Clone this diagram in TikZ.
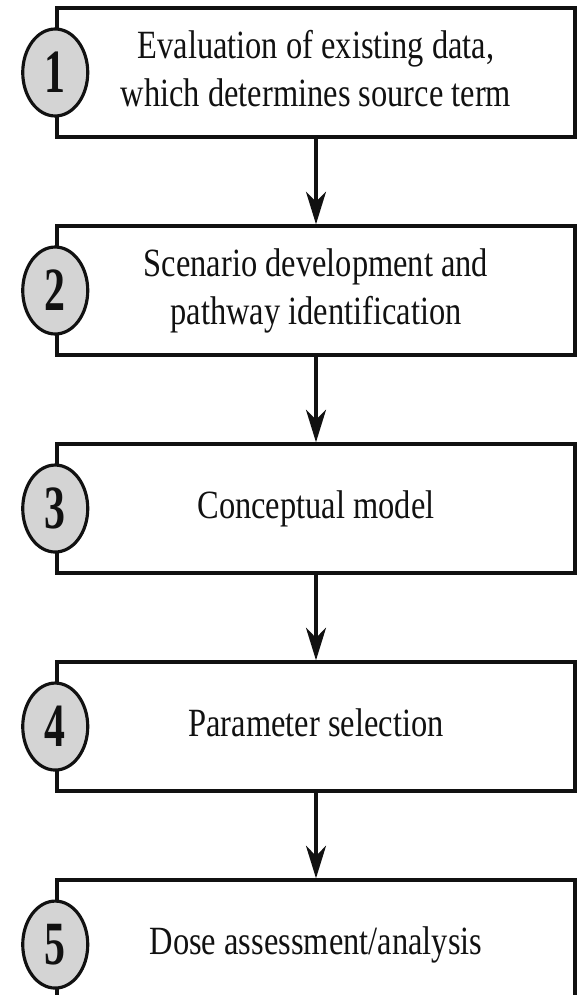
\documentclass[tikz,border=0pt]{standalone}
\usepackage{fontspec}
\setmainfont{Liberation Serif}
\usetikzlibrary{arrows.meta,positioning,shapes.geometric}
\definecolor{Ink}{HTML}{111111}
\definecolor{BadgeGrey}{HTML}{D4D4D4}
% narrow the type as in the reference
\newcommand{\narrowtext}[1]{\scalebox{0.81}[1]{\begin{tabular}{@{}c@{}}#1\end{tabular}}}
\begin{document}
\begin{tikzpicture}[>={Stealth[length=6.5mm,width=4mm,inset=2mm]},node distance=1.71cm,stage/.style={rectangle,draw=Ink,line width=2pt,minimum width=10.36cm,minimum height=2.58cm,align=center,text=Ink,font=\fontsize{22.8}{27.3}\selectfont},badge/.style={ellipse,draw=Ink,line width=1.8pt,fill=BadgeGrey,minimum width=1.3cm,minimum height=1.74cm,inner sep=0pt,text=Ink,font=\fontsize{35}{35}\selectfont\bfseries},flow/.style={->,line width=1.8pt,draw=Ink}]
\useasboundingbox (0,0) rectangle (11.72,-19.9);
\node[stage] (S1) at (6.32,-1.45) {\narrowtext{Evaluation of existing data,\\which determines source term}};\node[stage,below=of S1] (S2) {\narrowtext{Scenario development and\\pathway identification}};\node[stage,below=of S2] (S3) {\narrowtext{Conceptual model}};\node[stage,below=of S3] (S4) {\narrowtext{Parameter selection}};\node[stage,below=of S4] (S5) {\narrowtext{Dose assessment/analysis}};
\foreach \i in {1,...,5} \node[badge] (B\i) at (S\i.west) {\scalebox{0.68}[1]{\i}};
\foreach \a/\b in {S1/S2,S2/S3,S3/S4,S4/S5} \draw[flow] (\a) -- (\b);
\end{tikzpicture}
\end{document}
